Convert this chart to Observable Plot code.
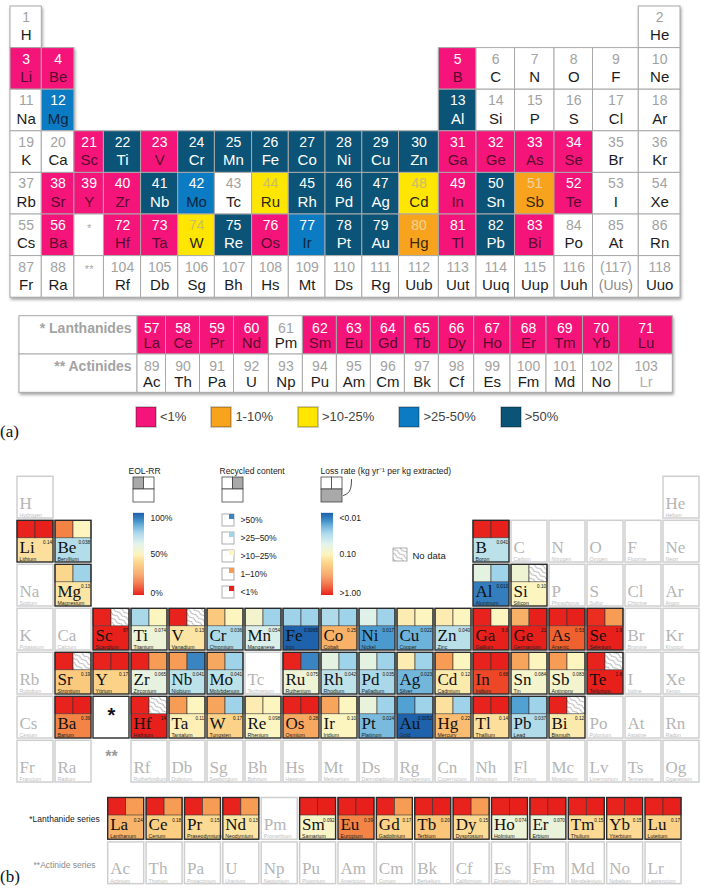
<!DOCTYPE html>
<html><head><meta charset="utf-8">
<script src="https://cdn.jsdelivr.net/npm/d3@7"></script>
<script src="https://cdn.jsdelivr.net/npm/@observablehq/plot@0.6"></script>
<style>
html,body{margin:0;padding:0;background:#fff;}
#page{position:relative;width:701px;height:889px;overflow:hidden;font-family:"Liberation Sans",Arial,sans-serif;}
.plabel{position:absolute;font-family:"Liberation Serif","Times New Roman",serif;font-size:17px;color:#111;line-height:22px;}
.lga-swatches{font-family:"Liberation Sans",Arial,sans-serif !important;font-size:13px !important;color:#444;margin:0 !important;}
.lga-swatches-wrap .lga-swatch{margin-right:25px !important;}
.lga-swatch > svg{margin-right:4px !important;}
.lga-swatch rect{stroke:rgba(0,0,0,0.28);stroke-width:1.5px;}
</style></head>
<body><div id="page"></div>
<script>
// ---------------- data ----------------
const elementSymbols = ["H","He","Li","Be","B","C","N","O","F","Ne","Na","Mg","Al","Si","P","S","Cl","Ar","K","Ca","Sc","Ti","V","Cr","Mn","Fe","Co","Ni","Cu","Zn","Ga","Ge","As","Se","Br","Kr","Rb","Sr","Y","Zr","Nb","Mo","Tc","Ru","Rh","Pd","Ag","Cd","In","Sn","Sb","Te","I","Xe","Cs","Ba","La","Ce","Pr","Nd","Pm","Sm","Eu","Gd","Tb","Dy","Ho","Er","Tm","Yb","Lu","Hf","Ta","W","Re","Os","Ir","Pt","Au","Hg","Tl","Pb","Bi","Po","At","Rn","Fr","Ra","Ac","Th","Pa","U","Np","Pu","Am","Cm","Bk","Cf","Es","Fm","Md","No","Lr","Rf","Db","Sg","Bh","Hs","Mt","Ds","Rg","Cn","Nh","Fl","Mc","Lv","Ts","Og"];
const elementNames = ["Hydrogen","Helium","Lithium","Beryllium","Boron","Carbon","Nitrogen","Oxygen","Fluorine","Neon","Sodium","Magnesium","Aluminum","Silicon","Phosphorus","Sulfur","Chlorine","Argon","Potassium","Calcium","Scandium","Titanium","Vanadium","Chromium","Manganese","Iron","Cobalt","Nickel","Copper","Zinc","Gallium","Germanium","Arsenic","Selenium","Bromine","Krypton","Rubidium","Strontium","Yttrium","Zirconium","Niobium","Molybdenum","Technetium","Ruthenium","Rhodium","Palladium","Silver","Cadmium","Indium","Tin","Antimony","Tellurium","Iodine","Xenon","Cesium","Barium","Lanthanum","Cerium","Praseodymium","Neodymium","Promethium","Samarium","Europium","Gadolinium","Terbium","Dysprosium","Holmium","Erbium","Thulium","Ytterbium","Lutetium","Hafnium","Tantalum","Tungsten","Rhenium","Osmium","Iridium","Platinum","Gold","Mercury","Thallium","Lead","Bismuth","Polonium","Astatine","Radon","Francium","Radium","Actinium","Thorium","Protactinium","Uranium","Neptunium","Plutonium","Americium","Curium","Berkelium","Californium","Einsteinium","Fermium","Mendelevium","Nobelium","Lawrencium","Rutherfordium","Dubnium","Seaborgium","Bohrium","Hassium","Meitnerium","Darmstadtium","Roentgenium","Copernicium","Nihonium","Flerovium","Moscovium","Livermorium","Tennessine","Oganesson"];

// panel (a): end-of-life recycling rate classes
const aCategories = ["<1%","1-10%",">10-25%",">25-50%",">50%"];
const aLessThan1 = ["Li","Be","B","Sc","V","Ga","Ge","As","Se","Sr","Y","Zr","In","Te","Ba","Hf","Ta","Os","Tl","Bi","La","Ce","Pr","Nd","Sm","Eu","Gd","Tb","Dy","Ho","Er","Tm","Yb","Lu"];
const a1to10 = ["Sb","Hg"];
const a10to25 = ["Ru","Cd","W"];
const a25to50 = ["Mg","Mo","Ir"];
const aMore50 = ["Al","Ti","Cr","Mn","Fe","Co","Ni","Cu","Zn","Nb","Rh","Pd","Ag","Sn","Re","Pt","Au","Pb"];
const aLateSymbols = ["Uub","Uut","Uuq","Uup","Uuh","(Uus)","Uuo"];
const aLateNumbers = ["112","113","114","115","116","(117)","118"];
const aFadedSymbols = ["(Uus)","Lr"];
const aSeriesLabels = ["* Lanthanides","** Actinides"];

// panel (b): EOL-RR (%), recycled content class, loss rate (kg/yr per kg extracted)
const bSymbols = ["Li","Be","B","Mg","Al","Si","Sc","Ti","V","Cr","Mn","Fe","Co","Ni","Cu","Zn","Ga","Ge","As","Se","Sr","Y","Zr","Nb","Mo","Ru","Rh","Pd","Ag","Cd","In","Sn","Sb","Te","Ba","Hf","Ta","W","Re","Os","Ir","Pt","Au","Hg","Tl","Pb","Bi","La","Ce","Pr","Nd","Sm","Eu","Gd","Tb","Dy","Ho","Er","Tm","Yb","Lu"];
const bEolRR = [0.5,20,0.5,40,60,56,0.5,73,0.5,36,54,75,72,62,47,47,0.5,30,0.5,3,0.5,0.5,0.5,25,28,0.5,60,60,47,25,0.5,27,25,0.5,0.5,0.5,25,27,47,0.5,27,58,87,43,0.5,87,0.5,0.5,0.5,0.5,0.5,0.5,0.5,0.5,0.5,0.5,0.5,0.5,0.5,0.5,0.5];
const bRecycledContent = ["<1%",">10-25%","<1%",">25-50%",">25-50%",null,null,">10-25%",null,">10-25%",">25-50%",">25-50%",">25-50%",">25-50%",">10-25%",">10-25%",">10-25%","<1%","<1%","1-10%",null,"<1%","1-10%",">50%",">25-50%",">50%",">25-50%",">25-50%",">25-50%",">10-25%","<1%",">10-25%",">10-25%",null,"<1%",null,">10-25%",">25-50%",">10-25%","<1%",">10-25%",">25-50%",">25-50%",">25-50%","<1%",">25-50%",null,"1-10%","1-10%","1-10%","1-10%","<1%","<1%","1-10%","<1%","1-10%","<1%","<1%","<1%","<1%","<1%"];
const bLossRate = [0.14,0.038,0.041,0.13,0.013,0.10,87,0.074,0.13,0.036,0.054,0.0065,0.25,0.017,0.022,0.040,9.0,21,0.53,1.9,0.19,0.17,0.065,0.041,0.041,0.075,0.042,0.035,0.023,0.12,0.68,0.084,0.083,1.6,0.39,14,0.11,0.17,0.098,0.28,0.10,0.024,0.0052,0.22,0.14,0.037,0.12,0.24,0.18,0.15,0.13,0.092,0.39,0.17,0.20,0.15,0.074,0.070,0.15,0.15,0.17];
const eolTicks = ["100%","50%","0%"];
const lossTicks = ["<0.01","0.10",">1.00"];
const seriesLabelsB = ["*Lanthanide series","**Actinide series"];

// ---------------- helpers ----------------
const page = document.getElementById("page");
function place(node, top, left = 0) { node.style.position = "absolute"; node.style.top = top + "px"; node.style.left = left + "px"; page.appendChild(node); }
const SANS = "'Liberation Sans', Arial, Helvetica, sans-serif";
const SERIF = "'Liberation Serif', 'Times New Roman', serif";

function gridPos(z) {
  if (z >= 57 && z <= 71) return {series: "La", idx: z - 57};
  if (z >= 89 && z <= 103) return {series: "Ac", idx: z - 89};
  let row, col;
  if (z <= 2) { row = 1; col = z === 1 ? 1 : 18; }
  else if (z <= 10) { row = 2; col = z <= 4 ? z - 2 : z + 8; }
  else if (z <= 18) { row = 3; col = z <= 12 ? z - 10 : z; }
  else if (z <= 36) { row = 4; col = z - 18; }
  else if (z <= 54) { row = 5; col = z - 36; }
  else if (z <= 86) { row = 6; col = z <= 56 ? z - 54 : z - 68; }
  else { row = 7; col = z <= 88 ? z - 86 : z - 100; }
  return {series: "main", row, col};
}
const elements = elementSymbols.map((sym, i) => ({z: i + 1, sym, name: elementNames[i], ...gridPos(i + 1)}));

// ---------------- panel (a) ----------------
const aColors = ["#f5157a", "#f8a31e", "#ffe600", "#0b7bc3", "#0c5477"];
const catOf = new Map();
[[aLessThan1, aCategories[0]], [a1to10, aCategories[1]], [a10to25, aCategories[2]], [a25to50, aCategories[3]], [aMore50, aCategories[4]]]
  .forEach(([list, c]) => list.forEach(s => catOf.set(s, c)));
const numFillA = {"none": "#a2a2a2", "<1%": "#ffffff", "1-10%": "#f1d39a", ">10-25%": "#c8bd70", ">25-50%": "#ffffff", ">50%": "#ffffff"};
const symFillA = {"none": "#1c1c1c", "<1%": "#5a0c2e", "1-10%": "#3a290c", ">10-25%": "#2a2812", ">25-50%": "#0b2740", ">50%": "#ffffff"};

const aMain = elements.filter(e => e.series === "main").map(e => {
  const sym = e.z >= 112 ? aLateSymbols[e.z - 112] : e.sym;
  return {col: e.col, row: e.row, num: e.z >= 112 ? aLateNumbers[e.z - 112] : String(e.z), sym,
          cat: catOf.get(e.sym) || "none", faded: aFadedSymbols.includes(sym)};
});
const aMarkers = [{col: 3, row: 6, num: "*", cat: "none"}, {col: 3, row: 7, num: "**", cat: "none"}];
const aSeries = elements.filter(e => e.series !== "main").map(e => ({
  i: e.idx, row: e.series === "La" ? 0 : 1, num: String(e.z), sym: e.sym,
  cat: catOf.get(e.sym) || "none", faded: aFadedSymbols.includes(e.sym)}));

function catTexts(data, fills, key, opts) {
  return Object.entries(fills).map(([cat, fill]) =>
    Plot.text(data.filter(d => d.cat === cat && !(key === "sym" && d.faded)), {...opts, text: key, fill}));
}

// column boundaries of the (unevenly drawn) source table, as piecewise scale transforms
const colBoundsA = [10, 41.3, 73.9, 103.4, 140.6, 177.7, 214.4, 251.6, 288.3, 325, 361.8, 398.5, 438.4, 476, 514.5, 554, 592.5, 638.3, 680];
const colScaleA = d3.scaleLinear().domain(d3.range(0.5, 19, 1)).range(colBoundsA);
const lanBoundsA = [19, 137, 165.5, 199.5, 233.5, 268.4, 302.4, 336.4, 370.4, 404.4, 438.4, 473.7, 510, 546, 582.5, 618.8, 672.3];
const lanScaleA = d3.scaleLinear().domain(d3.range(17)).range(lanBoundsA);
const colorA = {type: "ordinal", domain: [...aCategories, "none"], range: [...aColors, "#ffffff"]};

const plotA1 = Plot.plot({
  width: 701, height: 305, margin: 0,
  style: {background: "transparent", overflow: "visible"},
  x: {axis: null, domain: [0, 701], range: [0, 701], transform: colScaleA},
  y: {axis: null, domain: [1, 2], range: [6, 47.6]},
  color: colorA,
  marks: [
    Plot.rect([...aMain, ...aMarkers], {x1: d => d.col - 0.5, x2: d => d.col + 0.5, y1: "row", y2: d => d.row + 1, fill: "cat", stroke: "#a9a9a9", strokeWidth: 1}),
    ...catTexts(aMain, numFillA, "num", {x: "col", y: d => d.row + 0.265, fontSize: 14, fontFamily: SANS}),
    ...catTexts(aMain, symFillA, "sym", {x: "col", y: d => d.row + 0.70, fontSize: 15, fontFamily: SANS}),
    Plot.text(aMain.filter(d => d.faded), {x: "col", y: d => d.row + 0.70, text: "sym", fontSize: 14, fontFamily: SANS, fill: "#8a8a8a"}),
    Plot.text(aMarkers, {x: "col", y: d => d.row + 0.33, text: "num", fontSize: 11, fontFamily: SANS, fill: "#a8a8a8"})
  ]
});
plotA1.querySelector('g[aria-label="rect"]').style.filter = "drop-shadow(1.5px 2.5px 1.5px rgba(0,0,0,0.35))";
place(plotA1, 0);

const plotA2 = Plot.plot({
  width: 701, height: 95, margin: 0,
  style: {background: "transparent", overflow: "visible"},
  x: {axis: null, domain: [0, 701], range: [0, 701], transform: lanScaleA},
  y: {axis: null, domain: [0, 1], range: [10.7, 49]},
  color: colorA,
  marks: [
    Plot.rect([...aSeriesLabels.map((label, row) => ({label, row, x1: 0, x2: 1, cat: "none"})),
               ...aSeries.map(d => ({...d, x1: d.i + 1, x2: d.i + 2}))],
      {x1: "x1", x2: "x2", y1: "row", y2: d => d.row + 1, fill: "cat", stroke: "#a9a9a9", strokeWidth: 1}),
    Plot.text(aSeriesLabels.map((label, row) => ({label, row})), {x: () => 1, y: d => d.row + 0.32, text: "label", dx: -6, textAnchor: "end", fontSize: 14, fontWeight: "bold", fill: "#a3a3a3", fontFamily: SANS}),
    ...catTexts(aSeries, numFillA, "num", {x: d => d.i + 1.5, y: d => d.row + 0.32, fontSize: 14, fontFamily: SANS}),
    ...catTexts(aSeries, symFillA, "sym", {x: d => d.i + 1.5, y: d => d.row + 0.715, fontSize: 15, fontFamily: SANS}),
    Plot.text(aSeries.filter(d => d.faded), {x: d => d.i + 1.5, y: d => d.row + 0.715, text: "sym", fontSize: 15, fontFamily: SANS, fill: "#b0b0b0"})
  ]
});
plotA2.querySelector('g[aria-label="rect"]').style.filter = "drop-shadow(1.5px 2.5px 1.5px rgba(0,0,0,0.35))";
place(plotA2, 305);

const legendA = Plot.legend({color: {type: "ordinal", domain: aCategories, range: aColors}, swatchSize: 20, className: "lga"});
place(legendA, 400, 136);

const la = document.createElement("div"); la.className = "plabel"; la.textContent = "(a)"; place(la, 421, 0);

// ---------------- panel (b) ----------------
const rampColors = ["#e8201c", "#ef5a2c", "#f69c55", "#fbcf82", "#fdf5c0", "#def1ea", "#9fd3e9", "#4f9fd2", "#1d62ab"];
const rcScore = {"<1%": 0, "1-10%": 0.25, ">10-25%": 0.5, ">25-50%": 0.75, ">50%": 0.93};
const lossScore = v => Math.max(0, Math.min(1, -Math.log10(v) / 2));
const fmt = d3.format(".2r");
const bIndex = new Map(bSymbols.map((s, i) => [s, i]));
const cellW = 36 / 38, cellH = 41.7 / 44, sqH = 17.5 / 44, half = cellW / 2;
const symY = 0.725, nameY = 0.92, valY = 0.535;
const bCells = elements.map(e => {
  const i = bIndex.get(e.sym);
  return {
    x: e.series === "main" ? e.col : 3.387 + e.idx * 1.01,
    y: e.series === "main" ? e.row : e.series === "La" ? 8.30 : 9.31,
    sym: e.sym, name: e.name, has: i !== undefined,
    eol: i !== undefined ? bEolRR[i] : null,
    rc: i !== undefined ? bRecycledContent[i] : null,
    loss: i !== undefined ? bLossRate[i] : null
  };
});
const bData = bCells.filter(d => d.has), bNone = bCells.filter(d => !d.has);
const X = px => 1 + (px - 17) / 38;
const Y = py => 1 + (py - 476.3) / 44;

// legend pieces (layout in page pixels converted to grid units)
const iconParts = [];
[[133, "TL"], [222, "TR"], [321, "B"]].forEach(([l, g]) => {
  iconParts.push({x1: X(l), x2: X(l + 10.5), y1: Y(477), y2: Y(489), gray: g === "TL"});
  iconParts.push({x1: X(l + 10.5), x2: X(l + 21), y1: Y(477), y2: Y(489), gray: g === "TR"});
  iconParts.push({x1: X(l), x2: X(l + 21), y1: Y(489), y2: Y(502), gray: g === "B"});
});
const nSteps = 80;
const bars = [];
[[133, 144], [321, 333]].forEach(([l, r]) => d3.range(nSteps).forEach(k => {
  const t0 = k / nSteps, t1 = (k + 1) / nSteps;
  bars.push({x1: X(l), x2: X(r), y1: Y(595 - 82 * t0), y2: Y(595 - 82 * t1) - 0.004, s: (t0 + t1) / 2});
}));
const tickRows = [518, 554, 593];
const rcLegend = [...aCategories].reverse().map((c, k) => ({cat: c, label: c.replace("-", "\u2013"), yc: 520 + k * 18}));
const hook = [[343, 495], [348, 492], [350.5, 486], [351, 479]].map(([a, b]) => ({x: X(a), y: Y(b)}));

const plotB = Plot.plot({
  width: 701, height: 444, margin: 0,
  style: {background: "transparent", overflow: "visible"},
  x: {axis: null, domain: [1, 2], range: [17, 55]},
  y: {axis: null, domain: [1, 2], range: [31.3, 75.3]},
  color: {type: "linear", domain: [0, 1], range: rampColors},
  marks: [
    Plot.rect(bNone, {x1: "x", x2: d => d.x + cellW, y1: "y", y2: d => d.y + cellH, fill: "white", stroke: "#cfcfcf", strokeWidth: 1.5}),
    Plot.rect(bData, {x1: "x", x2: d => d.x + cellW, y1: d => d.y + sqH, y2: d => d.y + cellH, fill: d => lossScore(d.loss)}),
    Plot.rect(bData, {x1: "x", x2: d => d.x + half, y1: "y", y2: d => d.y + sqH, fill: d => d.eol / 100, stroke: "#333", strokeWidth: 0.6}),
    Plot.rect(bData.filter(d => d.rc), {x1: d => d.x + half, x2: d => d.x + cellW, y1: "y", y2: d => d.y + sqH, fill: d => rcScore[d.rc], stroke: "#333", strokeWidth: 0.6}),
    Plot.rect(bData.filter(d => !d.rc), {x1: d => d.x + half, x2: d => d.x + cellW, y1: "y", y2: d => d.y + sqH, fill: "url(#hatch)", stroke: "#333", strokeWidth: 0.6}),
    Plot.rect(bData, {x1: "x", x2: d => d.x + cellW, y1: "y", y2: d => d.y + cellH, fill: "none", stroke: "#2a2a2a", strokeWidth: 1.4}),
    Plot.rect([{x: 3, y: 6}], {x1: "x", x2: d => d.x + cellW, y1: "y", y2: d => d.y + cellH, fill: "white", stroke: "#2a2a2a", strokeWidth: 1.4}),
    Plot.text([{x: 3, y: 6}], {x: d => d.x + half, y: d => d.y + 0.42, text: () => "*", fontSize: 20, fontWeight: "bold", fill: "#111", fontFamily: SANS}),
    Plot.text([{x: 3, y: 7}], {x: d => d.x + half, y: d => d.y + 0.36, text: () => "**", fontSize: 16, fontWeight: "bold", fill: "#9a9a9a", fontFamily: SANS}),
    Plot.text(bNone, {x: "x", y: d => d.y + symY, dx: 2, text: "sym", textAnchor: "start", lineAnchor: "bottom", fontSize: 17, fontFamily: SERIF, fill: "#b5b5b5"}),
    Plot.text(bNone, {x: "x", y: d => d.y + nameY, dx: 2, text: "name", textAnchor: "start", lineAnchor: "bottom", fontSize: 5.2, fontFamily: SANS, fill: "#bdbdbd"}),
    Plot.text(bData, {x: "x", y: d => d.y + symY, dx: 2, text: "sym", textAnchor: "start", lineAnchor: "bottom", fontSize: 17, fontFamily: SERIF, fill: "#111"}),
    Plot.text(bData, {x: "x", y: d => d.y + nameY, dx: 2, text: "name", textAnchor: "start", lineAnchor: "bottom", fontSize: 5.2, fontFamily: SANS, fill: "#222"}),
    Plot.text(bData, {x: d => d.x + cellW, y: d => d.y + valY, dx: -1.5, text: d => fmt(d.loss), textAnchor: "end", lineAnchor: "bottom", fontSize: 4.6, fontFamily: SANS, fill: "#111"}),
    Plot.text(seriesLabelsB.map((label, k) => ({label, k})), {x: X(64), y: d => d.k === 0 ? Y(819) : Y(865), text: "label", fontSize: 8.5, fontFamily: SANS, fill: d => d.k === 0 ? "#1a1a1a" : "#8a8a8a"}),
    Plot.text([{t: "EOL-RR", px: 128}, {t: "Recycled content", px: 219}, {t: "Loss rate (kg yr\u207B\u00B9 per kg extracted)", px: 320}],
      {x: d => X(d.px), y: Y(471), text: "t", textAnchor: "start", fontSize: 8.5, fontFamily: SANS, fill: "#222"}),
    Plot.rect(iconParts, {x1: "x1", x2: "x2", y1: "y1", y2: "y2", fill: d => d.gray ? "#a9a9a9" : "white", stroke: "#444", strokeWidth: 0.8}),
    Plot.line(hook, {x: "x", y: "y", curve: "natural", stroke: "#333", strokeWidth: 0.9}),
    Plot.rect(bars, {x1: "x1", x2: "x2", y1: "y1", y2: "y2", fill: "s"}),
    Plot.text(eolTicks.map((t, k) => ({t, k})), {x: X(150), y: d => Y(tickRows[d.k]), text: "t", textAnchor: "start", fontSize: 8.5, fontFamily: SANS, fill: "#222"}),
    Plot.text(lossTicks.map((t, k) => ({t, k})), {x: X(339), y: d => Y(tickRows[d.k]), text: "t", textAnchor: "start", fontSize: 8.5, fontFamily: SANS, fill: "#222"}),
    Plot.rect(rcLegend, {x1: X(222), x2: X(234), y1: d => Y(d.yc - 6), y2: d => Y(d.yc + 6), fill: "white", stroke: "#9a9a9a", strokeWidth: 0.8}),
    Plot.rect(rcLegend, {x1: X(229), x2: X(234), y1: d => Y(d.yc - 6), y2: d => Y(d.yc - 1), fill: d => rcScore[d.cat]}),
    Plot.text(rcLegend, {x: X(240), y: d => Y(d.yc), text: "label", textAnchor: "start", fontSize: 8.5, fontFamily: SANS, fill: "#222"}),
    Plot.rect([{}], {x1: X(393), x2: X(407), y1: Y(548), y2: Y(561), fill: "url(#hatch)", stroke: "#999", strokeWidth: 0.8}),
    Plot.text([{}], {x: X(412), y: Y(555), text: () => "No data", textAnchor: "start", fontSize: 9.5, fontFamily: SANS, fill: "#222"})
  ]
});
const defs = d3.select(plotB).insert("defs", ":first-child");
const pat = defs.append("pattern").attr("id", "hatch").attr("patternUnits", "userSpaceOnUse")
  .attr("width", 8).attr("height", 4.2).attr("patternTransform", "rotate(35)");
pat.append("rect").attr("width", 8).attr("height", 4.2).attr("fill", "white");
pat.append("path").attr("d", "M0,2.1 Q2,0.6 4,2.1 T8,2.1").attr("fill", "none").attr("stroke", "#888").attr("stroke-width", 0.7);
place(plotB, 445);

const lb = document.createElement("div"); lb.className = "plabel"; lb.textContent = "(b)"; place(lb, 866, 0);
</script></body></html>
